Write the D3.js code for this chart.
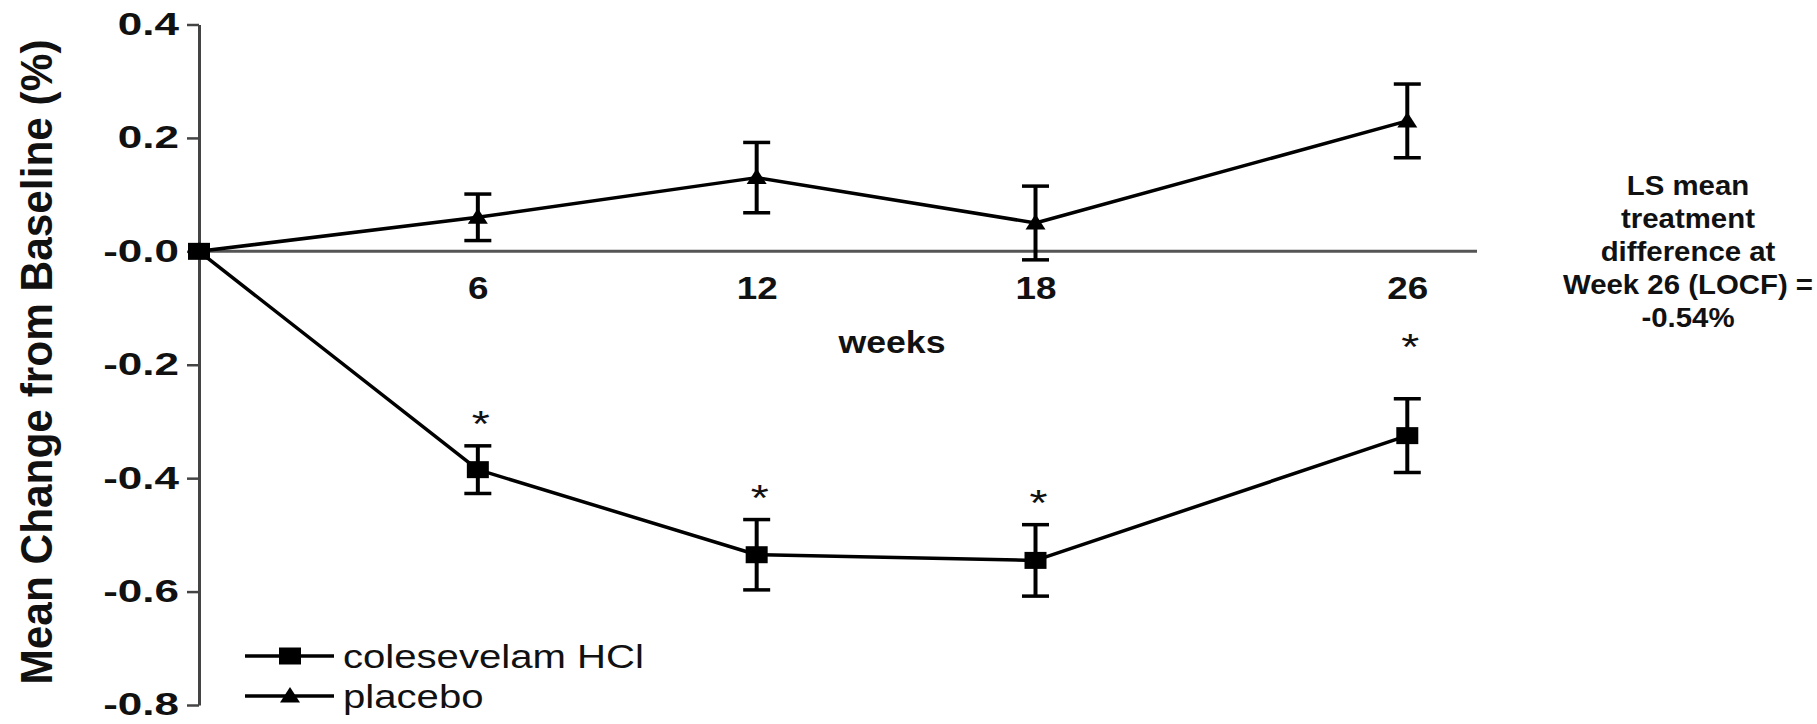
<!DOCTYPE html>
<html>
<head>
<meta charset="utf-8">
<script src="https://cdn.jsdelivr.net/npm/d3@7/dist/d3.min.js"></script>
<style>
  html, body { margin: 0; padding: 0; background: #ffffff; }
  svg { display: block; }
  text { font-family: "Liberation Sans", Arial, Helvetica, sans-serif; fill: #111; }
</style>
</head>
<body>
<svg id="chart" width="1817" height="724"></svg>
<script>
// Study visits (weeks) and mean change from baseline (%), with SE
const weeks = [0, 6, 12, 18, 26];
const colesevelamMean = [0, -0.385, -0.535, -0.545, -0.325];
const colesevelamSE = [0, 0.042, 0.062, 0.063, 0.065];
const placeboMean = [0, 0.06, 0.13, 0.05, 0.23];
const placeboSE = [0, 0.041, 0.062, 0.065, 0.065];
const significant = [false, true, true, true, true];

const seriesNames = ["colesevelam HCl", "placebo"];
const xTickValues = [6, 12, 18, 26];
const yTickValues = [0.4, 0.2, 0, -0.2, -0.4, -0.6, -0.8];
const yTickLabels = ["0.4", "0.2", "-0.0", "-0.2", "-0.4", "-0.6", "-0.8"];
const yAxisTitle = "Mean Change from Baseline (%)";
const xAxisTitle = "weeks";
const noteLines = ["LS mean", "treatment", "difference at", "Week 26 (LOCF) =", "-0.54%"];

const svg = d3.select("#chart");

const x = d3.scaleLinear().domain([0, 27.5]).range([199, 1477]);
const y = d3.scaleLinear().domain([-0.8, 0.4]).range([705, 24.5]);

const axisColor = "#444";

// horizontally widened text helper
function wide(sel, sx) {
  sel.each(function () {
    const t = d3.select(this);
    const tx = +t.attr("x") || 0;
    const ty = +t.attr("y") || 0;
    t.attr("x", 0).attr("y", 0)
     .attr("transform", `translate(${tx},${ty}) scale(${sx},1)`);
  });
}

// Y axis
const yAxis = svg.append("g")
  .attr("transform", `translate(${x(0)},0)`)
  .call(d3.axisLeft(y)
    .tickValues(yTickValues)
    .tickFormat((d, i) => yTickLabels[i])
    .tickSizeInner(12)
    .tickSizeOuter(0)
    .tickPadding(8));
yAxis.select(".domain").attr("stroke", axisColor).attr("stroke-width", 3);
yAxis.selectAll(".tick line").attr("stroke", axisColor).attr("stroke-width", 2.5);
yAxis.selectAll(".tick text")
  .style("font-size", "31px").style("font-weight", "bold").attr("fill", "#222")
  .call(wide, 1.42);

// zero reference line
svg.append("line")
  .attr("x1", x(0)).attr("x2", x(27.5))
  .attr("y1", y(0)).attr("y2", y(0))
  .attr("stroke", "#555").attr("stroke-width", 3);

// X tick labels under the zero line
const xAxis = svg.append("g")
  .attr("transform", `translate(0,${y(0)})`)
  .call(d3.axisBottom(x)
    .tickValues(xTickValues)
    .tickFormat(d3.format("d"))
    .tickSizeInner(0)
    .tickSizeOuter(0)
    .tickPadding(25));
xAxis.select(".domain").remove();
xAxis.selectAll(".tick text")
  .style("font-size", "32px").style("font-weight", "bold").attr("fill", "#222")
  .attr("dy", "0.71em")
  .call(wide, 1.15);

svg.append("text")
  .attr("x", 892).attr("y", 353)
  .attr("text-anchor", "middle")
  .style("font-size", "31px").style("font-weight", "bold")
  .text(xAxisTitle)
  .call(wide, 1.15);

// Y axis title
svg.append("text")
  .attr("transform", `translate(52,362) rotate(-90)`)
  .attr("text-anchor", "middle")
  .attr("textLength", 645)
  .attr("lengthAdjust", "spacingAndGlyphs")
  .style("font-size", "44px").style("font-weight", "bold")
  .text(yAxisTitle);

// Series
const line = d3.line().x(d => x(d.w)).y(d => y(d.m));
const squarePath = "M-11,-8.5H11V8.5H-11Z";
const trianglePath = "M0,-9L10,6.5L-10,6.5Z";

function drawSeries(means, ses, marker) {
  const data = weeks.map((w, i) => ({ w, m: means[i], se: ses[i], sig: significant[i] }));
  const g = svg.append("g");
  g.append("path").datum(data)
    .attr("d", line).attr("fill", "none")
    .attr("stroke", "#000").attr("stroke-width", 3.5)
    .attr("stroke-linejoin", "round");
  const bars = g.selectAll(".err").data(data.filter(d => d.se > 0)).join("g");
  bars.append("line")
    .attr("x1", d => x(d.w)).attr("x2", d => x(d.w))
    .attr("y1", d => y(d.m + d.se)).attr("y2", d => y(d.m - d.se))
    .attr("stroke", "#000").attr("stroke-width", 4);
  [1, -1].forEach(s => {
    bars.append("line")
      .attr("x1", d => x(d.w) - 13.5).attr("x2", d => x(d.w) + 13.5)
      .attr("y1", d => y(d.m + s * d.se)).attr("y2", d => y(d.m + s * d.se))
      .attr("stroke", "#000").attr("stroke-width", 3.5);
  });
  g.selectAll(".mk").data(data).join("path")
    .attr("d", marker)
    .attr("transform", d => `translate(${x(d.w)},${y(d.m)})`)
    .attr("fill", "#000");
  return data;
}

drawSeries(placeboMean, placeboSE, trianglePath);
const colData = drawSeries(colesevelamMean, colesevelamSE, squarePath);

// significance markers above colesevelam error bars (last one set higher)
const starGap = d => (d.w === 26 ? 60 : 30);
svg.selectAll(".star").data(colData.filter(d => d.sig)).join("text")
  .attr("x", d => x(d.w) + 3)
  .attr("y", d => y(d.m + d.se) - starGap(d) + 21)
  .attr("text-anchor", "middle")
  .style("font-size", "37px")
  .text("*")
  .call(wide, 1.25);

// Legend
const legendRows = [
  { name: seriesNames[0], marker: squarePath, y: 656 },
  { name: seriesNames[1], marker: trianglePath, y: 696 }
];
const lg = svg.append("g");
legendRows.forEach(r => {
  lg.append("line").attr("x1", 245).attr("x2", 334).attr("y1", r.y).attr("y2", r.y)
    .attr("stroke", "#000").attr("stroke-width", 3.5);
  lg.append("path").attr("d", r.marker)
    .attr("transform", `translate(290,${r.y})`).attr("fill", "#000");
  lg.append("text").attr("x", 343).attr("y", r.y + 12)
    .style("font-size", "34px")
    .attr("fill", "#222")
    .text(r.name)
    .call(wide, 1.18);
});

// Treatment difference note
svg.append("g").selectAll("text").data(noteLines).join("text")
  .attr("x", 1688)
  .attr("y", (d, i) => 195 + i * 33)
  .attr("text-anchor", "middle")
  .style("font-size", "28px").style("font-weight", "bold")
  .text(d => d)
  .call(wide, 1.05);
</script>
</body>
</html>
